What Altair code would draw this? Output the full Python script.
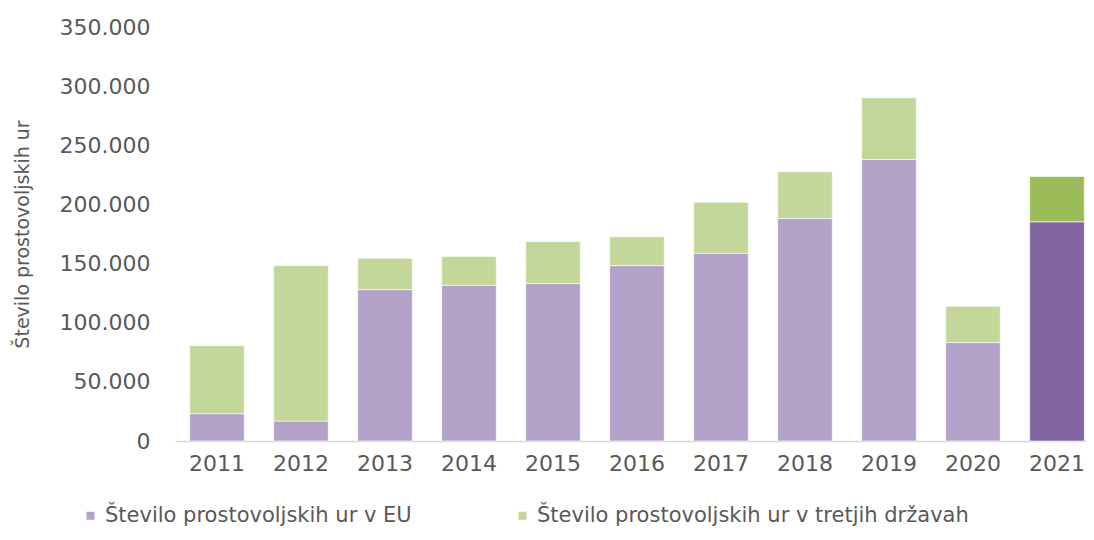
import altair as alt
import pandas as pd

years = ["2011", "2012", "2013", "2014", "2015", "2016", "2017", "2018", "2019", "2020", "2021"]
eu_hours = [23100, 16900, 128000, 131600, 133100, 148300, 158700, 188100, 238000, 83200, 185300]
third_hours = [57500, 131400, 26500, 24300, 35500, 24300, 43200, 39500, 52200, 30700, 38300]

lab_eu = "Število prostovoljskih ur v EU"
lab_third = "Število prostovoljskih ur v tretjih državah"
key_eu21 = "EU 2021"
key_third21 = "tretje 2021"

rows = []
for y, e, t in zip(years, eu_hours, third_hours):
    hi = y == "2021"
    rows.append({"leto": y, "ure": e, "serija": key_eu21 if hi else lab_eu, "red": 0})
    rows.append({"leto": y, "ure": t, "serija": key_third21 if hi else lab_third, "red": 1})
df = pd.DataFrame(rows)

FONT = "DejaVu Sans"
GREY = "#595959"

chart = alt.Chart(df).mark_bar(stroke="white", strokeWidth=1, strokeOpacity=0.6).encode(
    x=alt.X("leto:N", sort=years, title=None,
            scale=alt.Scale(range=[0, 924], paddingInner=0.35, paddingOuter=0.175),
            axis=alt.Axis(labelAngle=0, ticks=False, tickSize=0, labelPadding=12,
                          domainColor="#d9d9d9", domainWidth=1.5,
                          labelFont=FONT, labelFontSize=22, labelColor=GREY, grid=False)),
    y=alt.Y("ure:Q", stack="zero",
            scale=alt.Scale(domain=[0, 350000], nice=False),
            axis=alt.Axis(values=[0, 50000, 100000, 150000, 200000, 250000, 300000, 350000],
                          labelExpr="datum.value == 0 ? '0' : format(datum.value / 1000, 'd') + '.000'",
                          title="Število prostovoljskih ur", grid=False, domain=False,
                          ticks=False, tickSize=0, labelPadding=25,
                          labelFont=FONT, labelFontSize=22, labelColor=GREY,
                          titleFont=FONT, titleFontSize=19, titleColor=GREY, titleFontWeight="normal",
                          titleAngle=-90, titleX=-153, titleY=207,
                          titleAlign="center", titleBaseline="middle")),
    color=alt.Color("serija:N",
                    scale=alt.Scale(domain=[lab_eu, lab_third, key_eu21, key_third21],
                                    range=["#b3a2c7", "#c4d79b", "#8064a2", "#9bbb59"]),
                    legend=alt.Legend(values=[lab_eu, lab_third], title=None, orient="none",
                                      direction="horizontal", columns=2,
                                      legendX=-95, legendY=478,
                                      symbolType="square", symbolSize=64, symbolStrokeWidth=0,
                                      labelFont=FONT, labelFontSize=21, labelColor=GREY,
                                      labelLimit=800, labelOffset=4, columnPadding=100,
                                      padding=0)),
    order=alt.Order("red:Q", sort="ascending"),
).properties(
    width=911,
    height=414,
    autosize=alt.AutoSizeParams(type="none"),
    padding={"left": 167, "top": 19, "right": 0, "bottom": 91},
).configure_view(stroke=None)

chart.save("out.html", embed_options={"renderer": "svg", "actions": False})
